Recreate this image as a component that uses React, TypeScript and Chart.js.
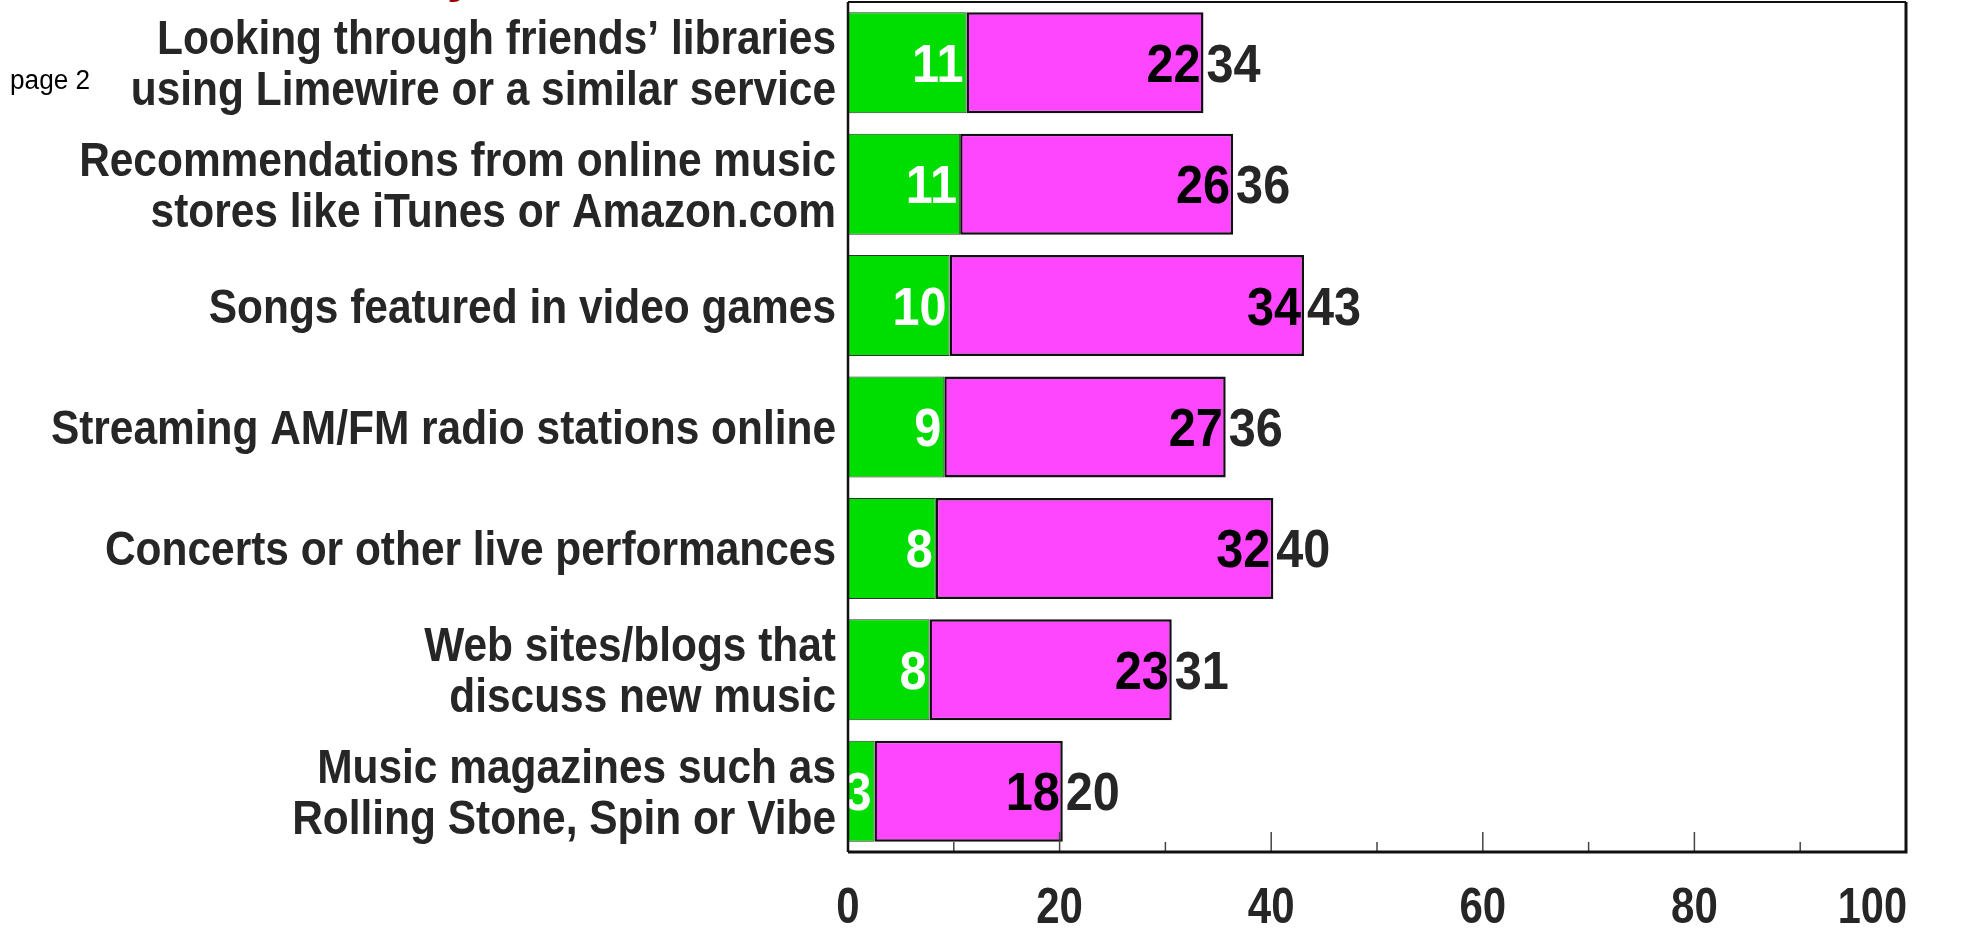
import React, { useEffect, useRef } from "react";
import { Chart, registerables } from "chart.js";

Chart.register(...registerables);

// ---------- data ----------
const categories: string[][] = [
  ["Looking through friends\u2019 libraries", "using Limewire or a similar service"],
  ["Recommendations from online music", "stores like iTunes or Amazon.com"],
  ["Songs featured in video games"],
  ["Streaming AM/FM radio stations online"],
  ["Concerts or other live performances"],
  ["Web sites/blogs that", "discuss new music"],
  ["Music magazines such as", "Rolling Stone, Spin or Vibe"],
];

// bar lengths
const mainValues = [11.2, 10.6, 9.6, 9.1, 8.3, 7.7, 2.5];
const moreValues = [22.4, 25.8, 33.5, 26.6, 31.9, 22.9, 17.8];

// printed numbers
const mainLabels = [11, 11, 10, 9, 8, 8, 3];
const moreLabels = [22, 26, 34, 27, 32, 23, 18];
const totalLabels = [34, 36, 43, 36, 40, 31, 20];

const xTickValues = [0, 20, 40, 60, 80, 100];
const xMinorValues = [10, 30, 50, 70, 90];

const SANS = "'Liberation Sans', Arial, sans-serif";

function condensedText(ctx: any, text: string, x: number, y: number, sx: number, align: string) {
  ctx.save();
  ctx.translate(x, y);
  ctx.scale(sx, 1);
  ctx.textAlign = align;
  ctx.fillText(text, 0, 0);
  ctx.restore();
}

const overlayPlugin = {
  id: "overlay",
  afterDraw(chart: any) {
    const { ctx, chartArea: a, scales } = chart;
    const x = scales.x;
    const y = scales.y;
    ctx.save();
    ctx.textBaseline = "alphabetic";

    // category labels
    ctx.font = `bold 49px ${SANS}`;
    ctx.fillStyle = "#262626";
    const lineGap = 51;
    categories.forEach((lines, i) => {
      const cy = y.getPixelForValue(i);
      lines.forEach((ln, j) => {
        const ly = cy + (j - (lines.length - 1) / 2) * lineGap + 17;
        condensedText(ctx, ln, a.left - 12, ly, 0.866, "right");
      });
    });

    // value labels
    const m0 = chart.getDatasetMeta(0);
    const m1 = chart.getDatasetMeta(1);
    ctx.font = `bold 54px ${SANS}`;
    for (let i = 0; i < categories.length; i++) {
      const e0 = m0.data[i];
      const e1 = m1.data[i];
      const by = e0.y + 19;
      ctx.fillStyle = "#ffffff";
      condensedText(ctx, String(mainLabels[i]), e0.x - 3, by, 0.9, "right");
      ctx.fillStyle = "#000000";
      condensedText(ctx, String(moreLabels[i]), e1.x - 3, by, 0.9, "right");
      ctx.fillStyle = "#262626";
      condensedText(ctx, String(totalLabels[i]), e1.x + 3, by, 0.9, "left");
    }

    // inward ticks on bottom axis
    ctx.strokeStyle = "#444";
    ctx.lineWidth = 1.5;
    xTickValues.slice(1, -1).forEach((v) => {
      const px = x.getPixelForValue(v);
      ctx.beginPath();
      ctx.moveTo(px, a.bottom);
      ctx.lineTo(px, a.bottom - 20);
      ctx.stroke();
    });
    xMinorValues.forEach((v) => {
      const px = x.getPixelForValue(v);
      ctx.beginPath();
      ctx.moveTo(px, a.bottom);
      ctx.lineTo(px, a.bottom - 10);
      ctx.stroke();
    });

    // frame
    ctx.strokeStyle = "#111";
    ctx.lineWidth = 2;
    ctx.beginPath();
    ctx.moveTo(a.left, a.top);
    ctx.lineTo(a.right, a.top);
    ctx.stroke();
    ctx.lineWidth = 2.5;
    ctx.beginPath();
    ctx.moveTo(a.left, a.top);
    ctx.lineTo(a.left, a.bottom);
    ctx.stroke();
    ctx.lineWidth = 3;
    ctx.beginPath();
    ctx.moveTo(a.right, a.top);
    ctx.lineTo(a.right, a.bottom);
    ctx.lineTo(a.left, a.bottom);
    ctx.stroke();

    // x tick labels
    ctx.font = `bold 50px ${SANS}`;
    ctx.fillStyle = "#262626";
    xTickValues.forEach((v, i) => {
      const px = x.getPixelForValue(v);
      if (i === xTickValues.length - 1) {
        condensedText(ctx, String(v), a.right + 1, 923, 0.83, "right");
      } else {
        condensedText(ctx, String(v), px, 923, 0.84, "center");
      }
    });

    // page note
    ctx.font = `27px ${SANS}`;
    ctx.fillStyle = "#000";
    condensedText(ctx, "page 2", 10, 89, 0.97, "left");

    // cut-off title descender
    ctx.font = `bold 50px ${SANS}`;
    ctx.fillStyle = "#a00000";
    ctx.textAlign = "center";
    ctx.fillText("y", 461, -8);

    ctx.restore();
  },
};

export default function App() {
  const ref = useRef<HTMLCanvasElement | null>(null);

  useEffect(() => {
    document.body.style.margin = "0";
    const canvas = ref.current!;
    const chart = new Chart(canvas, {
      type: "bar",
      data: {
        labels: categories.map((c) => c.join(" ")),
        datasets: [
          {
            data: mainValues,
            backgroundColor: "#00DD00",
            borderColor: "#333333",
            borderWidth: 1,
            borderSkipped: false,
            barPercentage: 0.832,
            categoryPercentage: 1,
          },
          {
            data: moreValues,
            backgroundColor: "#FF46FF",
            borderColor: "#111111",
            borderWidth: 2.5,
            borderSkipped: false,
            barPercentage: 0.832,
            categoryPercentage: 1,
          },
        ],
      },
      options: {
        indexAxis: "y",
        animation: false,
        responsive: false,
        devicePixelRatio: 1,
        layout: { padding: { top: 2, right: 59, left: 0, bottom: 0 } },
        plugins: {
          legend: { display: false },
          tooltip: { enabled: false },
          title: { display: false },
        },
        scales: {
          x: {
            stacked: true,
            min: 0,
            max: 100,
            grid: { display: false, drawTicks: false },
            border: { display: false },
            ticks: { display: false },
            afterFit: (s: any) => {
              s.height = 76;
            },
          },
          y: {
            stacked: true,
            grid: { display: false, drawTicks: false },
            border: { display: false },
            ticks: { display: false },
            afterFit: (s: any) => {
              s.width = 848;
            },
          },
        },
      },
      plugins: [overlayPlugin],
    } as any);
    return () => chart.destroy();
  }, []);

  return (
    <div style={{ position: "fixed", left: 0, top: 0, width: 1965, height: 928, background: "#fff" }}>
      <canvas ref={ref} width={1965} height={928} style={{ display: "block" }} />
    </div>
  );
}
